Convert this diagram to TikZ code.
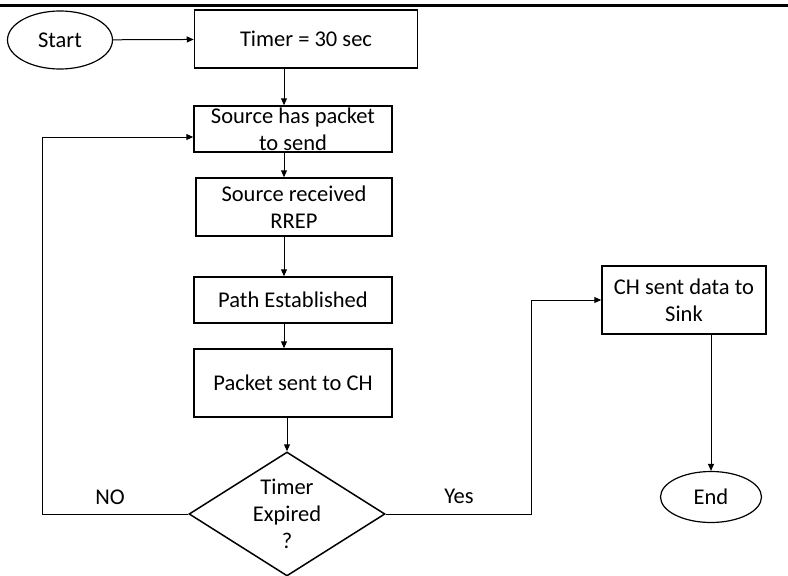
\documentclass[tikz,border=0pt]{standalone}
\usepackage{fontspec}
\setmainfont{Carlito}
\usetikzlibrary{arrows.meta, positioning, calc, shapes.geometric}

\begin{document}
\begin{tikzpicture}[
  x=1pt, y=-1pt,
  >={Triangle[length=7pt, width=6pt]},
  box/.style={draw, line width=1.5pt, minimum width=198pt, minimum height=#1,
    inner sep=0pt, align=center, font=\fontsize{22.5}{27}\selectfont},
  term/.style={draw, ellipse, line width=1.2pt, inner sep=0pt,
    font=\fontsize{22.5}{27}\selectfont},
  dec/.style={draw, diamond, line width=1.5pt, inner sep=0pt,
    minimum width=196pt, minimum height=124pt},
  arr/.style={->, line width=1pt},
  lbl/.style={font=\fontsize{22.5}{27}\selectfont, align=center},
]

% Frame
\useasboundingbox (0,0) rectangle (788,576);
\draw[line width=3pt] (0,5) -- (788,5);

% === Main column ===
\node[term, minimum width=105pt, minimum height=58pt] (start) at (60,40) {Start};
\node[box=58pt, minimum width=223pt] (timer) at (306,39) {Timer = 30 sec};
\node[box=46pt] (src) at (293,129) {Source has packet\\to send};
\node[box=58pt, minimum width=196pt] (rrep) at (294,207) {Source received\\RREP};
\node[box=46pt] (path) at (293,300) {Path Established};
\node[box=68pt] (pkt) at (293,383) {Packet sent to CH};

% Decision
\node[dec] (exp) at (287,514) {};
\node[lbl] (explbl) at (exp) {Timer\\Expired\\?};

% === Right branch ===
\node[box=68pt, minimum width=164pt] (ch) at (684,300) {CH sent data to\\Sink};
\node[term, minimum width=101pt, minimum height=51pt] (end) at (711,497) {End};

% Connectors
\coordinate (spine) at (284,0);
\draw[arr] (start) -- (timer);
\draw[arr] (timer.south -| spine) -- (src.north -| spine);
\draw[arr] (src.south -| spine) -- (rrep.north -| spine);
\draw[arr] (rrep.south -| spine) -- (path.north -| spine);
\draw[arr] (path.south -| spine) -- (pkt.north -| spine);
\draw[arr] (pkt.south -| exp.north) -- (exp.north);

% NO loop
\draw[arr] (exp.west) -- ++(-146,0) |- ($(src.west)+(0,8)$);
\node[lbl] (nolbl) at (110,497) {NO};

% Yes branch
\draw[arr] (exp.east) -- ++(146,0) |- (ch.west);
\node[lbl] (yeslbl) at (459,496) {Yes};

\draw[arr] (end.north |- ch.south) -- (end.north);

\end{tikzpicture}
\end{document}
